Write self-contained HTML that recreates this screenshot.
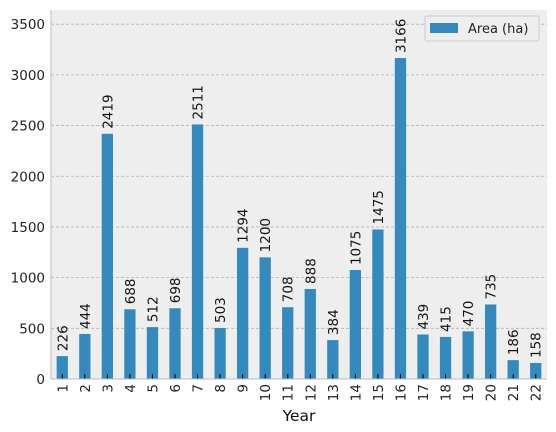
<!DOCTYPE html>
<html><head><meta charset="utf-8"><style>
body{margin:0;background:#fff;}
svg{display:block;font-family:"DejaVu Sans","Liberation Sans",sans-serif;}
</style></head><body>
<svg id="chart" width="556" height="432">
<rect x="51" y="10" width="496" height="369" fill="#eeeeee"/>
<g id="grid"></g><g id="bars"></g><g id="labels"></g><g id="axes"></g>
</svg>
<script>
const categories=["1","2","3","4","5","6","7","8","9","10","11","12","13","14","15","16","17","18","19","20","21","22"];
const areaValues=[226,444,2419,688,512,698,2511,503,1294,1200,708,888,384,1075,1475,3166,439,415,470,735,186,158];
const yTicks=[0,500,1000,1500,2000,2500,3000,3500];
const L=51,R=547,T=10,B=379,YMAX=3640;
const ns="http://www.w3.org/2000/svg";
function y(v){return B-(v/YMAX)*(B-T);}
function x(i){return L+(i+0.5)*(R-L)/categories.length;}
function mk(tag,attrs,parent,text){const e=document.createElementNS(ns,tag);for(const k in attrs)e.setAttribute(k,attrs[k]);if(text!==undefined)e.textContent=text;document.getElementById(parent).appendChild(e);return e;}
const bw=0.5*(R-L)/categories.length;
yTicks.forEach(t=>{
  const g=mk('line',{x1:L,x2:R,y1:y(t),y2:y(t),stroke:'#b2b2b2','stroke-width':0.8,'stroke-dasharray':'3,2'},'grid');
  
  
  const tl=mk('text',{x:L-6,y:y(t)+5,'text-anchor':'end','font-size':13.5,fill:'#222'},'axes',String(t));
  
  
});
categories.forEach((c,i)=>{
  const v=areaValues[i];
  const b=mk('rect',{x:x(i)-bw/2,y:y(v),width:bw,height:B-y(v),fill:'#348abd'},'bars');
  
  
  const tk=mk('line',{x1:x(i),x2:x(i),y1:B,y2:B-5,stroke:'#000','stroke-width':1},'axes');
  
  
  const lx=x(i)+5,ly=y(v)-5;
  const vl=mk('text',{x:lx,y:ly,'font-size':13.5,fill:'#111',transform:`rotate(-90 ${lx} ${ly})`},'labels',String(v));
  
  
  const cx=x(i)+5,cy=B+5;
  const cl=mk('text',{x:cx,y:cy,'font-size':13.5,fill:'#222','text-anchor':'end',transform:`rotate(-90 ${cx} ${cy})`},'axes',c);
  
  
});
const s1=mk('line',{x1:L,x2:L,y1:T,y2:B,stroke:'#bcbcbc','stroke-width':1},'axes');


const s2=mk('line',{x1:L,x2:R,y1:B,y2:B,stroke:'#bcbcbc','stroke-width':1},'axes');


const xt=mk('text',{x:(L+R)/2,y:421,'text-anchor':'middle','font-size':15.5,fill:'#111'},'axes','Year');


const lg=mk('rect',{x:425,y:16,width:114,height:25,rx:2,fill:'#eeeeee',stroke:'#cccccc','stroke-width':1},'axes');


const ls=mk('rect',{x:430,y:23,width:28,height:10,fill:'#348abd'},'axes');


const lt=mk('text',{x:468,y:33,'font-size':13,fill:'#222'},'axes','Area (ha)');


</script>
</body></html>
